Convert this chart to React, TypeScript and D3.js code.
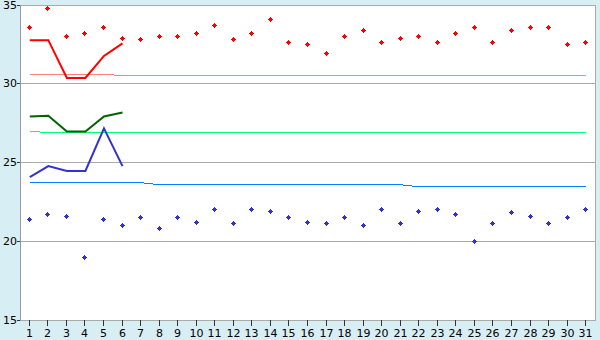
import React from "react";
import * as d3 from "d3";

const days: number[] = d3.range(1, 32);
const yTicks: number[] = [15, 20, 25, 30, 35];

const highPoints: number[] = [33.6, 34.8, 33.0, 33.2, 33.6, 32.9, 32.8, 33.0, 33.0, 33.2, 33.7, 32.8, 33.2, 34.1, 32.6, 32.5, 31.9, 33.0, 33.4, 32.6, 32.9, 33.0, 32.6, 33.2, 33.6, 32.6, 33.4, 33.6, 33.6, 32.5, 32.6];
const lowPoints: number[] = [21.4, 21.7, 21.6, 19.0, 21.4, 21.0, 21.5, 20.8, 21.5, 21.2, 22.0, 21.1, 22.0, 21.9, 21.5, 21.2, 21.1, 21.5, 21.0, 22.0, 21.1, 21.9, 22.0, 21.7, 20.0, 21.1, 21.8, 21.6, 21.1, 21.5, 22.0];

const redLine: number[] = [32.8, 32.8, 30.4, 30.4, 31.8, 32.6];
const greenLine: number[] = [27.95, 28.0, 27.0, 27.0, 27.95, 28.2];
const blueLine: number[] = [24.1, 24.8, 24.5, 24.5, 27.2, 24.8];

const pinkRef: number[] = [30.62, 30.62, 30.62, 30.62, 30.62, ...Array(26).fill(30.56)];
const mintRef: number[] = [27.0, ...Array(30).fill(26.94)];
const skyRef: number[] = [...Array(7).fill(23.75), ...Array(14).fill(23.62), ...Array(10).fill(23.49)];

const W = 600, H = 340;
const left = 20, right = 595, top = 5, bottom = 320;

export default function App() {
  const x = d3.scalePoint<number>().domain(days).range([left, right]).padding(0.5);
  const y = d3.scaleLinear().domain([15, 35]).range([bottom, top]);
  const px = (d: number) => Math.floor(x(d) as number) + 0.5;
  const py = (v: number) => Math.floor(y(v)) + 0.5;

  const line = (vals: number[]) =>
    d3.line<number>().x((_, i) => x(days[i]) as number + 0.5).y((v) => y(v) + 0.5)(vals) || "";

  // pixel plus/diamond marker: 5x5 with 3x3 core and 1px tips
  const plus = (cx: number, cy: number) => {
    const l = Math.floor(cx) - 2, t = Math.floor(cy) - 2;
    return `M${l + 2},${t}h1v1h1v1h1v1h-1v1h-1v1h-1v-1h-1v-1h-1v-1h1v-1h1z`;
  };

  const font = "'DejaVu Sans', Verdana, sans-serif";

  return (
    <svg width={W} height={H} style={{ position: "absolute", left: 0, top: 0, display: "block" }}>
      <rect x={0} y={0} width={W} height={H} fill="#d8eef5" />
      <rect x={left} y={top} width={right - left} height={bottom - top} fill="#ffffff" />
      {yTicks.map((t) => (
        <line key={"g" + t} x1={left} x2={right + 1} y1={py(t)} y2={py(t)} stroke="#aaaaaa" strokeWidth={1} shapeRendering="crispEdges" />
      ))}
      <line x1={right + 0.5} x2={right + 0.5} y1={top} y2={bottom + 1} stroke="#aaaaaa" shapeRendering="crispEdges" />
      <line x1={left + 0.5} x2={left + 0.5} y1={top} y2={bottom + 1} stroke="#999999" shapeRendering="crispEdges" />
      {yTicks.map((t) => (
        <g key={"yt" + t}>
          <line x1={left - 3} x2={left} y1={py(t)} y2={py(t)} stroke="#333333" shapeRendering="crispEdges" />
          <text x={left - 3} y={py(t)} dy="0.35em" textAnchor="end" fontFamily={font} fontSize={11} fill="#000">{t}</text>
        </g>
      ))}
      {days.map((d) => (
        <g key={"xt" + d}>
          <line x1={px(d)} x2={px(d)} y1={bottom} y2={bottom + 6} stroke="#333333" shapeRendering="crispEdges" />
          <text x={px(d)} y={337} textAnchor="middle" fontFamily={font} fontSize={11} fill="#000">{d}</text>
        </g>
      ))}
      <path d={line(pinkRef)} fill="none" stroke="#ff8080" strokeWidth={1} shapeRendering="crispEdges" />
      <path d={line(mintRef)} fill="none" stroke="#00ff80" strokeWidth={1} shapeRendering="crispEdges" />
      <path d={line(skyRef)} fill="none" stroke="#0080ff" strokeWidth={1} shapeRendering="crispEdges" />
      <path d={line(redLine)} fill="none" stroke="#ff0000" strokeWidth={2} />
      <path d={line(greenLine)} fill="none" stroke="#006400" strokeWidth={2} />
      <path d={line(blueLine)} fill="none" stroke="#3333cc" strokeWidth={2} />
      {highPoints.map((v, i) => (
        <path key={"h" + i} d={plus(x(days[i]) as number, y(v))} fill="#ff0000" shapeRendering="crispEdges" />
      ))}
      {lowPoints.map((v, i) => (
        <path key={"l" + i} d={plus(x(days[i]) as number, y(v))} fill="#3333cc" shapeRendering="crispEdges" />
      ))}
    </svg>
  );
}
